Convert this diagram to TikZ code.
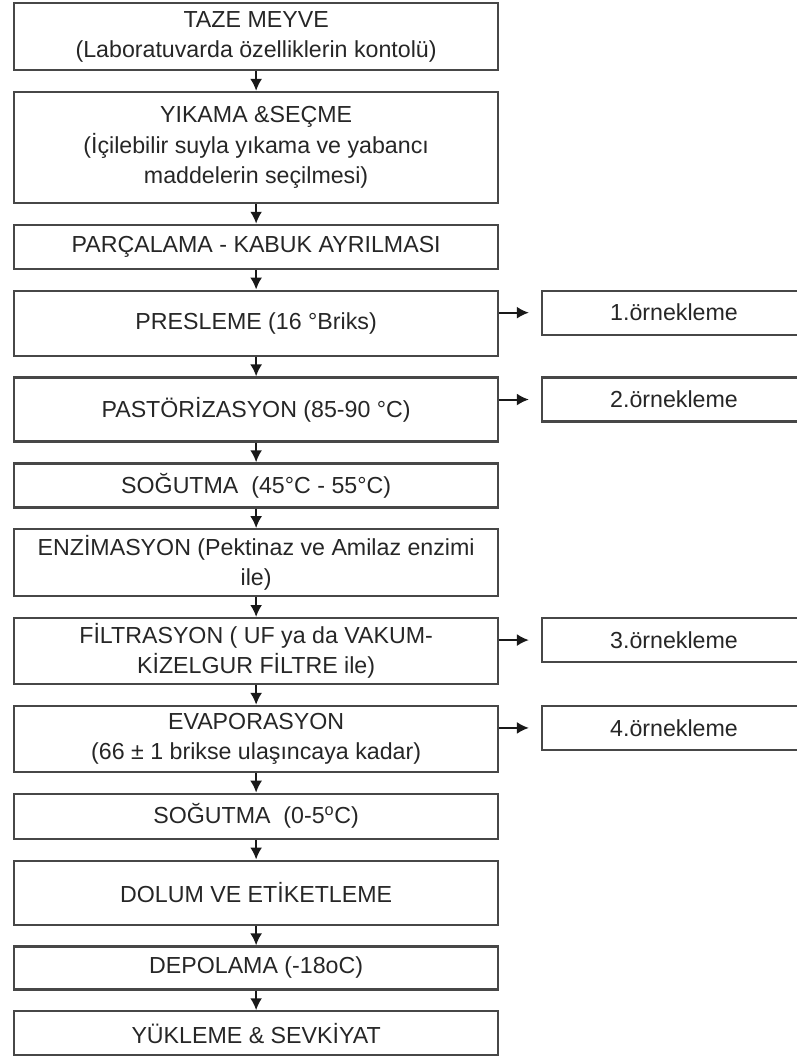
\documentclass[tikz,border=0pt]{standalone}
\usepackage{fontspec}
\setmainfont{Liberation Sans}
\usetikzlibrary{positioning,arrows.meta}

\tikzset{
	adim/.style={draw=black!72, line width=1.6pt, text=black!85, minimum width=12.1cm, align=center, inner sep=2pt, font=\fontsize{16.5}{21.5}\selectfont},
	ornek/.style={draw=black!72, line width=1.6pt, text=black!85, minimum width=6.6cm, minimum height=1.1cm, font=\fontsize{16.5}{21.5}\selectfont},
	ok/.style={draw=black!90, line width=1.4pt, -{Latex[length=8.5pt,width=8.5pt]}},
}

\begin{document}
\begin{tikzpicture}[node distance=0.49cm]
		\useasboundingbox (0,0) rectangle (19.925,-26.5);
		\node[adim, minimum height=1.675cm, anchor=north west] at (0.325,-0.05) (a1) {TAZE MEYVE\\(Laboratuvarda özelliklerin kontolü)};
		\node[adim, minimum height=2.775cm, below=of a1] (a2) {YIKAMA \&SEÇME\\(İçilebilir suyla yıkama ve yabancı\\maddelerin seçilmesi)};
		\node[adim, minimum height=1.1cm, below=of a2] (a3) {PARÇALAMA - KABUK AYRILMASI};
		\node[adim, minimum height=1.625cm, below=of a3] (a4) {PRESLEME (16 °Briks)};
		\node[adim, minimum height=1.6cm, below=of a4] (a5) {PASTÖRİZASYON (85-90 °C)};
		\node[adim, minimum height=1.1cm, below=of a5] (a6) {SOĞUTMA\ \ (45°C - 55°C)};
		\node[adim, minimum height=1.675cm, below=of a6] (a7) {ENZİMASYON (Pektinaz ve Amilaz enzimi\\ile)};
		\node[adim, minimum height=1.65cm, below=of a7] (a8) {FİLTRASYON ( UF ya da VAKUM-\\KİZELGUR FİLTRE ile)};
		\node[adim, minimum height=1.65cm, below=of a8] (a9) {EVAPORASYON\\(66 ± 1 brikse ulaşıncaya kadar)};
		\node[adim, minimum height=1.125cm, below=of a9] (a10) {SOĞUTMA\ \ (0-5\textsuperscript{o}C)};
		\node[adim, minimum height=1.6cm, below=of a10] (a11) {DOLUM VE ETİKETLEME};
		\node[adim, minimum height=1.075cm, below=of a11] (a12) {DEPOLAMA (-18oC)};
		\node[adim, minimum height=1.1cm, below=of a12] (a13) {YÜKLEME \& SEVKİYAT};
		%
		\node[ornek, right=1.04cm of a4.north east, anchor=north west] (o1) {1.örnekleme};
		\node[ornek, right=1.04cm of a5.north east, anchor=north west] (o2) {2.örnekleme};
		\node[ornek, right=1.04cm of a8.north east, anchor=north west] (o3) {3.örnekleme};
		\node[ornek, right=1.04cm of a9.north east, anchor=north west] (o4) {4.örnekleme};
		%
		\draw[ok] (a1) -- (a2);
		\draw[ok] (a2) -- (a3);
		\draw[ok] (a3) -- (a4);
		\draw[ok] (a4) -- (a5);
		\draw[ok] (a5) -- (a6);
		\draw[ok] (a6) -- (a7);
		\draw[ok] (a7) -- (a8);
		\draw[ok] (a8) -- (a9);
		\draw[ok] (a9) -- (a10);
		\draw[ok] (a10) -- (a11);
		\draw[ok] (a11) -- (a12);
		\draw[ok] (a12) -- (a13);
		%
		\draw[ok, shorten >=0.3cm] (a4.east |- o1) -- (o1);
		\draw[ok, shorten >=0.3cm] (a5.east |- o2) -- (o2);
		\draw[ok, shorten >=0.3cm] (a8.east |- o3) -- (o3);
		\draw[ok, shorten >=0.3cm] (a9.east |- o4) -- (o4);
	\end{tikzpicture}
\end{document}
